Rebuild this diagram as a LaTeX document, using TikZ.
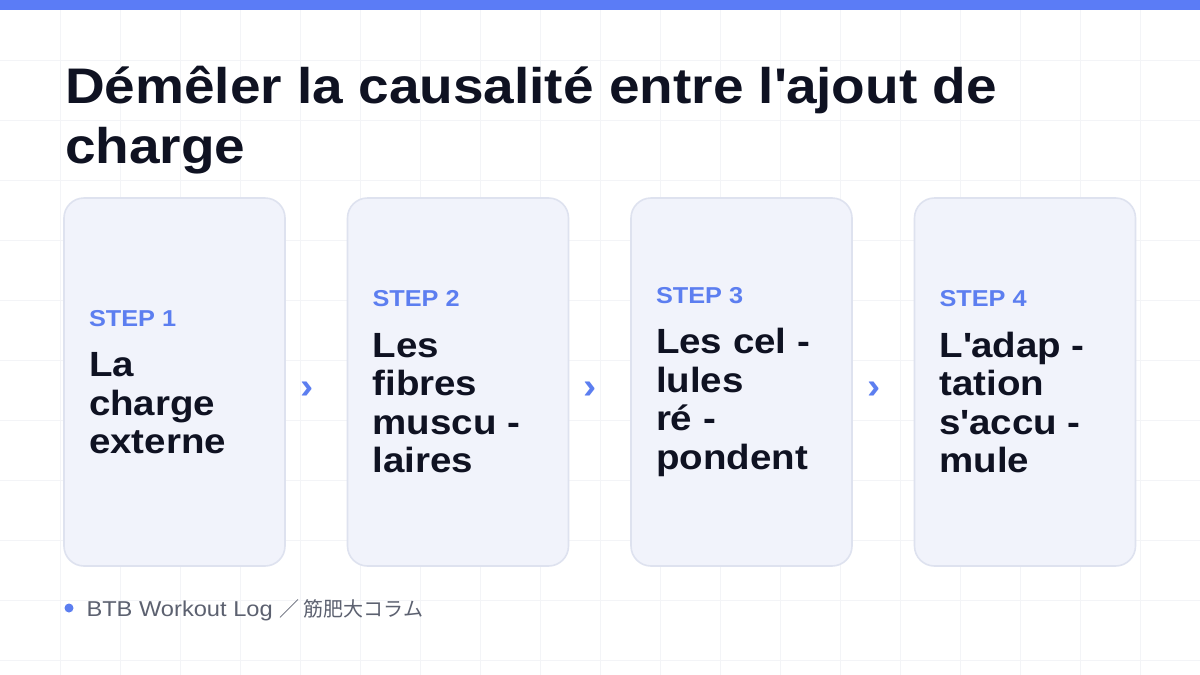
\documentclass[tikz,border=0pt]{standalone}
\usepackage{fontspec}
\setmainfont{Liberation Sans}[FakeStretch=1.1]
\newfontfamily\cjkfont{Noto Sans CJK JP}
\usetikzlibrary{positioning, calc}

\newcommand{\stepfont}{\color{stepblue}\fontsize{23}{28}\selectfont}

\begin{document}
\begin{tikzpicture}[x=1pt, y=-1pt,
    every node/.style={inner sep=0pt, outer sep=0pt},
    gridline/.style={draw=gridgray, line width=0.8pt},
    card/.style={draw=cardline, line width=1.6pt, fill=cardfill,
      rounded corners=20pt, minimum width=221pt, minimum height=368pt},
    steptext/.style={anchor=west, align=left, text=ink,
      font=\bfseries\fontsize{35}{38.5}\selectfont},
    chevron/.style={text=stepblue, font=\bfseries\fontsize{36}{36}\selectfont},
    title/.style={anchor=base west, align=left, text=ink,
      font=\bfseries\fontsize{50}{60}\selectfont},
    footer/.style={text=footgray, font=\fontsize{21.5}{24}\selectfont}]

    % Colors
    \definecolor{topblue}{RGB}{91,124,246}
    \definecolor{stepblue}{RGB}{92,126,240}
    \definecolor{ink}{RGB}{15,18,34}
    \definecolor{cardfill}{RGB}{241,243,251}
    \definecolor{cardline}{RGB}{222,226,239}
    \definecolor{gridgray}{RGB}{243,244,247}
    \definecolor{footgray}{RGB}{92,97,112}

    \useasboundingbox (0,0) rectangle (1200,675);

    % ======================
    % Background
    % ======================
    \fill[white] (0,0) rectangle (1200,675);
    \foreach \gx in {60,120,...,1140}
      \draw[gridline] (\gx,0) -- (\gx,675);
    \foreach \gy in {60,120,...,660}
      \draw[gridline] (0,\gy) -- (1200,\gy);

    % top bar
    \fill[topblue] (0,0) rectangle (1200,10);

    % ======================
    % Title (base = last line)
    % ======================
    \node[title] (heading) at (65,163)
      {Démêler la causalité entre l\textquotesingle ajout de\\charge};

    % ======================
    % Cards
    % ======================
    \node[card] (step1) at (174.5,382) {};
    \node[card, right=62.5pt of step1] (step2) {};
    \node[card, right=62.5pt of step2] (step3) {};
    \node[card, right=62.5pt of step3] (step4) {};

    % card texts
    \node[steptext] (txt1) at ([xshift=25pt]step1.west)
      {{\stepfont STEP 1}\\[12pt]La\\charge\\externe};
    \node[steptext] (txt2) at ([xshift=25pt]step2.west)
      {{\stepfont STEP 2}\\[12pt]Les\\fibres\\muscu -\\laires};
    \node[steptext] (txt3) at ([xshift=25pt]step3.west)
      {{\stepfont STEP 3}\\[12pt]Les cel -\\lules\\ré -\\pondent};
    \node[steptext] (txt4) at ([xshift=25pt]step4.west)
      {{\stepfont STEP 4}\\[12pt]L\textquotesingle adap -\\tation\\s\textquotesingle accu -\\mule};

    % chevrons between cards
    \node[chevron] (next1) at ($(step1.east)!0.35!(step2.west)+(0,8)$) {›};
    \node[chevron] (next2) at ($(step2.east)!0.35!(step3.west)+(0,8)$) {›};
    \node[chevron] (next3) at ($(step3.east)!0.35!(step4.west)+(0,8)$) {›};

    % ======================
    % Footer
    % ======================
    \node[circle, fill=stepblue, minimum size=9pt] (dot) at (69,608) {};
    \node[footer, right=13pt of dot, yshift=-2.5pt] (source)
      {BTB Workout Log {\cjkfont\fontsize{20}{24}\selectfont ／ 筋肥大コラム}};

\end{tikzpicture}
\end{document}
